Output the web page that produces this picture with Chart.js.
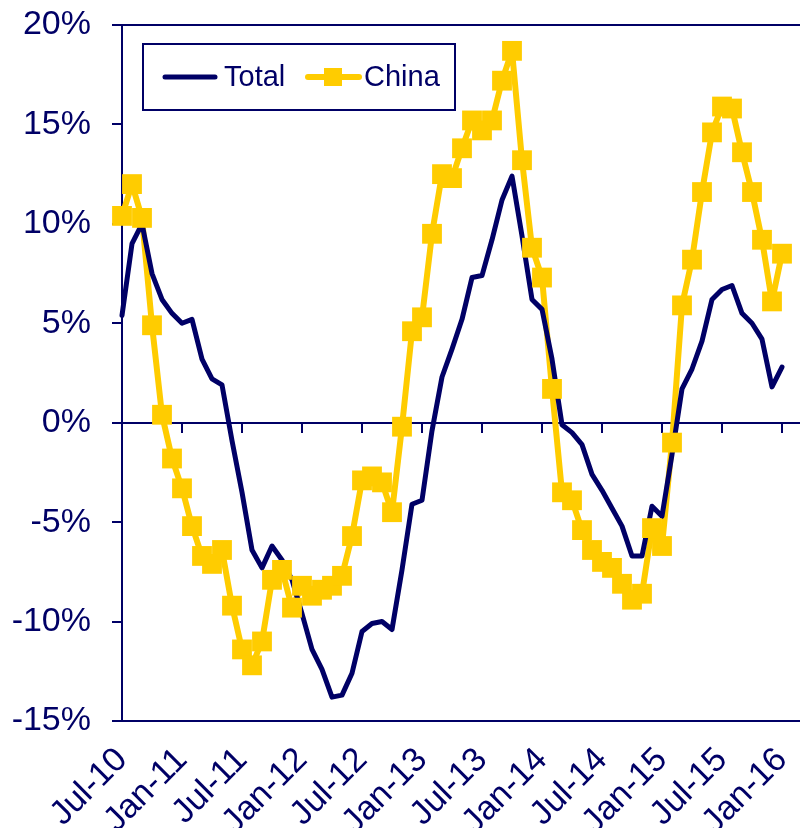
<!DOCTYPE html>
<html>
<head>
<meta charset="utf-8">
<script src="https://cdn.jsdelivr.net/npm/chart.js@4/dist/chart.umd.min.js"></script>
<style>
html,body{margin:0;padding:0;background:#ffffff;overflow:hidden;width:800px;height:828px;}
#wrap{width:800px;height:828px;position:relative;overflow:hidden;}
canvas{display:block;}
</style>
</head>
<body>
<div id="wrap"><canvas id="c"></canvas></div>
<script>
// ---- data ----
const months = [
  'Jul-10','Aug-10','Sep-10','Oct-10','Nov-10','Dec-10',
  'Jan-11','Feb-11','Mar-11','Apr-11','May-11','Jun-11','Jul-11','Aug-11','Sep-11','Oct-11','Nov-11','Dec-11',
  'Jan-12','Feb-12','Mar-12','Apr-12','May-12','Jun-12','Jul-12','Aug-12','Sep-12','Oct-12','Nov-12','Dec-12',
  'Jan-13','Feb-13','Mar-13','Apr-13','May-13','Jun-13','Jul-13','Aug-13','Sep-13','Oct-13','Nov-13','Dec-13',
  'Jan-14','Feb-14','Mar-14','Apr-14','May-14','Jun-14','Jul-14','Aug-14','Sep-14','Oct-14','Nov-14','Dec-14',
  'Jan-15','Feb-15','Mar-15','Apr-15','May-15','Jun-15','Jul-15','Aug-15','Sep-15','Oct-15','Nov-15','Dec-15',
  'Jan-16'
];
const tickLabels = ['Jul-10','Jan-11','Jul-11','Jan-12','Jul-12','Jan-13','Jul-13','Jan-14','Jul-14','Jan-15','Jul-15','Jan-16'];
const yTicks = [-15, -10, -5, 0, 5, 10, 15, 20];
const seriesNames = ['Total', 'China'];
const totalValues = [
  5.4, 9.0, 10.0, 7.5, 6.2, 5.5, 5.0, 5.2, 3.2, 2.2, 1.9,
  -0.9, -3.5, -6.4, -7.3, -6.2, -6.9, -7.9, -9.6, -11.4, -12.4,
  -13.8, -13.7, -12.6, -10.5, -10.1, -10.0, -10.4, -7.4, -4.1, -3.9,
  -0.4, 2.3, 3.7, 5.2, 7.3, 7.4, 9.2, 11.2, 12.4, 9.4,
  6.2, 5.7, 3.2, -0.1, -0.5, -1.1, -2.6, -3.4, -4.3, -5.2,
  -6.7, -6.7, -4.2, -4.7, -1.6, 1.7, 2.7, 4.1, 6.2, 6.7,
  6.9, 5.5, 5.0, 4.2, 1.8, 2.8
];
const chinaValues = [
  10.4, 12.0, 10.3, 4.9, 0.4, -1.8, -3.3, -5.2, -6.7, -7.1,
  -6.4, -9.2, -11.4, -12.2, -11.0, -7.9, -7.4, -9.3, -8.2, -8.7,
  -8.4, -8.2, -7.7, -5.7, -2.9, -2.7, -3.0, -4.5, -0.2, 4.6,
  5.3, 9.5, 12.5, 12.3, 13.8, 15.2, 14.7, 15.2, 17.2, 18.7,
  13.2, 8.8, 7.3, 1.7, -3.5, -3.9, -5.4, -6.4, -7.0, -7.3,
  -8.1, -8.9, -8.6, -5.3, -6.2, -1.0, 5.9, 8.2, 11.6, 14.6,
  15.9, 15.8, 13.6, 11.6, 9.2, 6.1, 8.5
];

// ---- styles ----
const NAVY = '#000066';
const GOLD = '#FFCC00';
const FONT = '"Liberation Sans", Arial, Helvetica, sans-serif';
const X_MAX = 67.8;

const toXY = arr => arr.map((v, i) => ({x: i, y: v}));
const setTicks = scale => { scale.ticks = tickLabels.map(l => ({value: months.indexOf(l)})); };
const noPad = s => { s.paddingLeft = 0; s.paddingRight = 0; s.paddingTop = 0; s.paddingBottom = 0; };

// stretch the plot area to the right edge of the canvas (reference plot is cut off there)
const stretchPlugin = {
  id: 'stretchRight',
  afterLayout(chart) {
    const W = chart.width;
    const ca = chart.chartArea;
    ca.right = W; ca.width = W - ca.left;
    ['x', 'x2'].forEach(id => {
      const s = chart.scales[id];
      s.right = W; s.width = W - s.left;
      s.configure();
    });
  }
};

const legendPlugin = {
  id: 'boxLegend',
  afterDraw(chart) {
    const {ctx, chartArea} = chart;
    const x0 = chartArea.left + 21, y0 = chartArea.top + 19, w = 312, h = 66;
    const cy = y0 + 33;
    ctx.save();
    ctx.fillStyle = '#ffffff';
    ctx.fillRect(x0, y0, w, h);
    ctx.strokeStyle = NAVY;
    ctx.lineWidth = 2;
    ctx.strokeRect(x0, y0, w, h);
    ctx.font = '29px ' + FONT;
    ctx.textBaseline = 'middle';
    ctx.textAlign = 'left';
    ctx.lineCap = 'round';
    // Total
    ctx.strokeStyle = NAVY; ctx.lineWidth = 5;
    ctx.beginPath(); ctx.moveTo(x0 + 22, cy); ctx.lineTo(x0 + 72, cy); ctx.stroke();
    ctx.fillStyle = NAVY;
    ctx.fillText(seriesNames[0], x0 + 81, cy + 1);
    // China
    ctx.strokeStyle = GOLD; ctx.lineWidth = 6;
    ctx.beginPath(); ctx.moveTo(x0 + 165, cy); ctx.lineTo(x0 + 216, cy); ctx.stroke();
    ctx.fillStyle = GOLD;
    ctx.fillRect(x0 + 190 - 9, cy - 9, 18, 18);
    ctx.fillStyle = NAVY;
    ctx.fillText(seriesNames[1], x0 + 221, cy + 1);
    ctx.restore();
  }
};

new Chart(document.getElementById('c'), {
  type: 'line',
  data: {
    datasets: [
      { label: seriesNames[1] + ' markers', data: toXY(chinaValues), showLine: false,
        pointStyle: 'rect', pointRadius: 14, pointBackgroundColor: GOLD, pointBorderWidth: 0,
        borderColor: GOLD, clip: false, order: 0 },
      { label: seriesNames[0], data: toXY(totalValues), borderColor: NAVY, borderWidth: 5,
        pointRadius: 0, tension: 0, borderJoinStyle: 'round', borderCapStyle: 'round', clip: false, order: 1 },
      { label: seriesNames[1], data: toXY(chinaValues), borderColor: GOLD, borderWidth: 6,
        pointRadius: 0, tension: 0, borderJoinStyle: 'round', borderCapStyle: 'round', clip: false, order: 2 }
    ]
  },
  options: {
    responsive: true,
    maintainAspectRatio: false,
    animation: false,
    events: [],
    layout: { padding: { top: 25, right: 0, bottom: 0, left: 0 } },
    plugins: { legend: { display: false }, tooltip: { enabled: false } },
    scales: {
      x: {
        type: 'linear', position: 'bottom', min: 0, max: X_MAX,
        afterBuildTicks: setTicks,
        afterFit: s => { s.height = 107; noPad(s); },
        grid: { display: false, drawTicks: false },
        border: { display: false },
        ticks: {
          autoSkip: false, minRotation: 45, maxRotation: 45, padding: 19,
          color: NAVY, font: { family: FONT, size: 34 },
          callback: v => months[v]
        }
      },
      x2: {
        type: 'linear', axis: 'x', position: { y: 0 }, min: 0, max: X_MAX,
        afterBuildTicks: setTicks,
        afterFit: noPad,
        grid: { drawOnChartArea: false, drawTicks: true, tickLength: 9, color: NAVY, tickColor: NAVY, lineWidth: 2 },
        border: { display: true, color: NAVY, width: 2 },
        ticks: { display: false }
      },
      y: {
        type: 'linear', position: 'left', min: yTicks[0], max: yTicks[yTicks.length - 1],
        afterBuildTicks: s => { s.ticks = yTicks.map(v => ({value: v})); },
        afterFit: s => { s.width = 122; noPad(s); },
        grid: {
          drawOnChartArea: true, drawTicks: true, tickLength: 10, lineWidth: 2,
          color: c => (c.tick && (c.tick.value === yTicks[0] || c.tick.value === yTicks[yTicks.length - 1])) ? NAVY : 'rgba(0,0,0,0)',
          tickColor: NAVY
        },
        border: { display: true, color: NAVY, width: 2 },
        ticks: {
          padding: 21, color: NAVY, font: { family: FONT, size: 34 },
          callback: v => v + '%'
        }
      }
    }
  },
  plugins: [stretchPlugin, legendPlugin]
});
</script>
</body>
</html>
